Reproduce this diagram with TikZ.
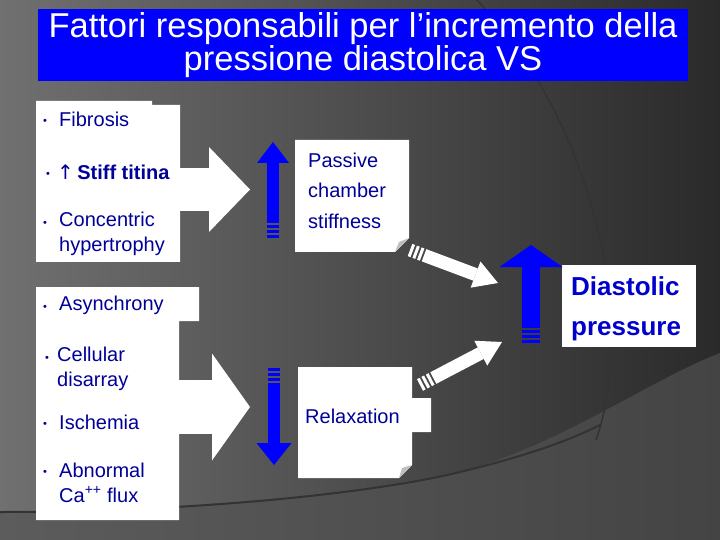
\documentclass[tikz,border=0pt]{standalone}
\usepackage{fontspec}
\setmainfont{Liberation Sans}
\newfontfamily\symfont{DejaVu Sans}
\usetikzlibrary{positioning,calc,arrows.meta}

\definecolor{navy}{RGB}{0,0,153}
\definecolor{brightblue}{RGB}{0,0,255}
\definecolor{deepblue}{RGB}{0,0,204}
\definecolor{bgleft}{RGB}{112,112,112}
\definecolor{bgright}{RGB}{42,42,42}
\definecolor{lowleft}{RGB}{92,92,92}
\definecolor{lowright}{RGB}{68,68,68}
\definecolor{foldgray}{RGB}{190,190,190}

\begin{document}
\begin{tikzpicture}[x=1bp,y=-1bp]
    \tikzset{item/.style={anchor=west,inner sep=0pt,text=navy,align=left,font=\fontsize{20bp}{25bp}\selectfont}}
    \tikzset{bul/.style={inner sep=0pt,text=navy,font=\fontsize{11bp}{11bp}\selectfont}}
    \tikzset{card/.style={fill=white}}
    \tikzset{fold/.style={fill=foldgray}}
    \tikzset{fat/.style n args={3}{line width=#1,-{Triangle[length=#2,width=#3,line width=0pt]}}}
    \tikzset{tail/.style={line width=#1,dash pattern=on 3bp off 2bp}}

    % background
    \useasboundingbox (0,0) rectangle (720,540);
    \shade[left color=bgleft,right color=bgright] (0,0) rectangle (720,540);
    \shade[left color=lowleft,right color=lowright] (0,512) .. controls (200,512) and (380,492) .. (460,472)
        .. controls (560,445) and (650,380) .. (720,353) -- (720,540) -- (0,540) -- cycle;
    \draw[black!80,line width=2bp] (0,512) .. controls (200,512) and (380,492) .. (460,472)
        .. controls (530,455) and (570,440) .. (600,425);
    \draw[black!80,line width=1.5bp] (477,0) .. controls (600,130) and (635,330) .. (596,440);

    % title
    \node[fill=brightblue,text=white,minimum width=650bp,minimum height=72bp,inner sep=0pt,align=center,
        font=\fontsize{34.5bp}{33bp}\selectfont] (title) at (363,45)
        {Fattori responsabili per l’incremento della\\pressione diastolica VS};

    % left lists
    \fill[card] (36,101) -- (152,101) -- (152,105) -- (180,105) -- (180,262) -- (36,262) -- cycle;
    \fill[card] (36,287) -- (199,287) -- (199,321) -- (179,321) -- (179,520) -- (36,520) -- cycle;

    \node[item] (fib) at (59,119) {Fibrosis};
    \node[item,font=\bfseries\fontsize{20bp}{25bp}\selectfont] (titin) at (57,172) {{\symfont\mdseries ↑}\,Stiff titina};
    \node[item] (conc) at (59,233.5) {Concentric\\hypertrophy};
    \node[item] (async) at (59,305) {Asynchrony};
    \node[item] (cell) at (57,368.5) {Cellular\\disarray};
    \node[item] (isch) at (59,422) {Ischemia};
    \node[item] (abn) at (59,482.5) {Abnormal\\Ca\textsuperscript{++} flux};
    \foreach \x/\y [count=\i] in {45/122,48/175,45/224,45/308,47/359,45/425,45/473}
        \node[bul] (b\i) at (\x,\y) {•};

    % big white arrows
    \coordinate (a1) at (170,189.5);
    \coordinate (a1-tip) at (250,189.5);
    \coordinate (a2) at (170,407);
    \coordinate (a2-tip) at (250,407);
    \draw[white,fat={43bp}{41bp}{85bp}] (a1) -- (a1-tip);
    \draw[white,fat={54bp}{38bp}{107bp}] (a2) -- (a2-tip);

    % cards
    \fill[card] (295,140) -- (409,140) -- (409,238) -- (395,252) -- (295,252) -- cycle;
    \fill[fold] (409,238) -- (395,252) -- (399,242) -- cycle;
    \node[item,font=\fontsize{20bp}{30.5bp}\selectfont] (passive) at (308,190.5) {Passive\\chamber\\stiffness};

    \fill[card] (298,367) -- (412,367) -- (412,398) -- (431,398) -- (431,432) -- (412,432)
        -- (412,465) -- (399,478) -- (298,478) -- cycle;
    \fill[fold] (412,465) -- (399,478) -- (402,468) -- cycle;
    \node[item] (relax) at (305,416) {Relaxation};

    \fill[card] (562,265) rectangle (696,347);
    \node[item,text=deepblue,font=\bfseries\fontsize{26bp}{40bp}\selectfont] (diast) at (571,309) {Diastolic\\pressure};

    % striped arrows
    \coordinate (u1) at (273,238);
    \coordinate (u1-tip) at (273,142);
    \coordinate (d1) at (274,368);
    \coordinate (d1-tip) at (274,465);
    \coordinate (u2) at (531,343);
    \coordinate (u2-tip) at (531,245);
    \coordinate (w1) at (410,250);
    \coordinate (w1-tip) at (498,283);
    \coordinate (w2) at (420,385);
    \coordinate (w2-tip) at (502,342);
    \foreach \p/\w/\l/\h/\col in {u1/12bp/21bp/32bp/brightblue, d1/12bp/22bp/35bp/brightblue,
        u2/18bp/22bp/63bp/brightblue, w1/13bp/24bp/28bp/white, w2/13bp/24bp/28bp/white} {
        \draw[\col,tail=\w] (\p) -- ($(\p)!13bp!(\p-tip)$);
        \draw[\col,fat={\w}{\l}{\h}] ($(\p)!15bp!(\p-tip)$) -- (\p-tip);
    }
\end{tikzpicture}
\end{document}
